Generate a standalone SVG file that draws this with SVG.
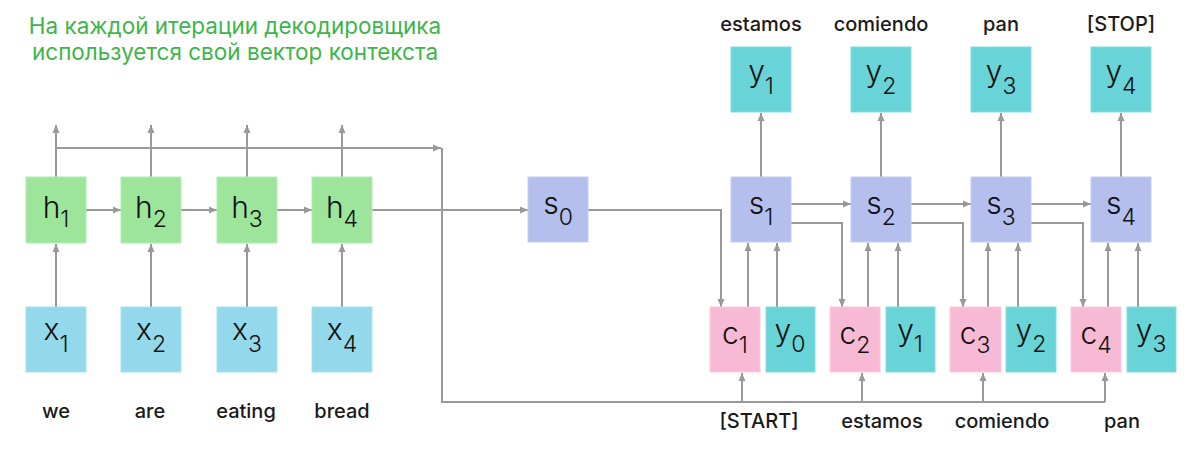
<svg xmlns="http://www.w3.org/2000/svg" width="1200" height="449" viewBox="0 0 1200 449">
<defs>
<marker id="ah" viewBox="0 0 8 8" refX="8" refY="4" markerWidth="8" markerHeight="8" markerUnits="userSpaceOnUse" orient="auto">
<path d="M0,0.5 L8,4 L0,7.5 z" fill="#999"/>
</marker>
<style>
.ln{fill:none;stroke:#999;stroke-width:2}
.ar{fill:none;stroke:#999;stroke-width:2;marker-end:url(#ah)}
.bx{stroke-width:1}
.xb{fill:#93d9eb;stroke:#a9e2f0}
.hb{fill:#9de59b;stroke:#b2ecb0}
.sb{fill:#b4bfee;stroke:#c4cdf2}
.cb{fill:#f8b9d4;stroke:#fbcbe0}
.yb{fill:#68d4d8;stroke:#86dde0}
.lab{font-family:Inter,Roboto,"Liberation Sans",sans-serif;font-weight:300;font-size:30px;fill:#111;text-anchor:middle}
.sub{font-size:23px}
.wd{font-family:Inter,"Liberation Sans",sans-serif;font-weight:500;font-size:20px;fill:#1a1a1a;text-anchor:middle}
.ttl{font-family:Inter,"Liberation Sans","Noto Sans",sans-serif;font-size:22.5px;fill:#3db54a;text-anchor:middle}
</style>
</defs>
<rect width="1200" height="449" fill="#fff"/>

<g id="title">
<text class="ttl" x="235" y="34">На каждой итерации декодировщика</text>
<text class="ttl" x="235" y="60">используется свой вектор контекста</text>
</g>

<g id="connectors">
<path class="ar" d="M56,307 V244"/>
<path class="ar" d="M151,307 V244"/>
<path class="ar" d="M247,307 V244"/>
<path class="ar" d="M342,307 V244"/>
<path class="ar" d="M56,177 V125"/>
<path class="ar" d="M151,177 V125"/>
<path class="ar" d="M247,177 V125"/>
<path class="ar" d="M342,177 V125"/>
<path class="ar" d="M86,210 H121"/>
<path class="ar" d="M181,210 H217"/>
<path class="ar" d="M277,210 H312"/>
<path class="ar" d="M372,210 H528"/>
<path class="ar" d="M56,148 H441"/>
<path class="ln" d="M442,148 V402 H1105"/>
<path class="ar" d="M742,402 V373"/>
<path class="ar" d="M862,402 V373"/>
<path class="ar" d="M983,402 V373"/>
<path class="ar" d="M1105,402 V373"/>
<path class="ar" d="M588,210 H721 V307"/>
<path class="ar" d="M791,204 H851"/>
<path class="ar" d="M911,204 H971"/>
<path class="ar" d="M1031,204 H1091"/>
<path class="ar" d="M791,223 H842 V307"/>
<path class="ar" d="M911,223 H963 V307"/>
<path class="ar" d="M1031,223 H1083 V307"/>
<path class="ar" d="M748,307 V243"/>
<path class="ar" d="M868,307 V243"/>
<path class="ar" d="M988,307 V243"/>
<path class="ar" d="M1108,307 V243"/>
<path class="ar" d="M777,307 V243"/>
<path class="ar" d="M898,307 V243"/>
<path class="ar" d="M1018,307 V243"/>
<path class="ar" d="M1138,307 V243"/>
<path class="ar" d="M761,177 V113"/>
<path class="ar" d="M881,177 V113"/>
<path class="ar" d="M1001,177 V113"/>
<path class="ar" d="M1121,177 V113"/>
</g>

<g id="x1"><rect class="bx xb" x="26" y="307" width="60" height="65"/><text class="lab" x="56" y="340">x<tspan class="sub" dy="12">1</tspan></text></g>
<g id="x2"><rect class="bx xb" x="121" y="307" width="60" height="65"/><text class="lab" x="151" y="340">x<tspan class="sub" dy="12">2</tspan></text></g>
<g id="x3"><rect class="bx xb" x="217" y="307" width="60" height="65"/><text class="lab" x="247" y="340">x<tspan class="sub" dy="12">3</tspan></text></g>
<g id="x4"><rect class="bx xb" x="312" y="307" width="60" height="65"/><text class="lab" x="342" y="340">x<tspan class="sub" dy="12">4</tspan></text></g>

<g id="h1"><rect class="bx hb" x="26" y="177" width="60" height="66"/><text class="lab" x="56" y="218">h<tspan class="sub" dy="9">1</tspan></text></g>
<g id="h2"><rect class="bx hb" x="121" y="177" width="60" height="66"/><text class="lab" x="151" y="218">h<tspan class="sub" dy="9">2</tspan></text></g>
<g id="h3"><rect class="bx hb" x="217" y="177" width="60" height="66"/><text class="lab" x="247" y="218">h<tspan class="sub" dy="9">3</tspan></text></g>
<g id="h4"><rect class="bx hb" x="312" y="177" width="60" height="66"/><text class="lab" x="342" y="218">h<tspan class="sub" dy="9">4</tspan></text></g>

<g id="s0"><rect class="bx sb" x="528" y="177" width="60" height="65"/><text class="lab" x="558" y="214">s<tspan class="sub" dy="11">0</tspan></text></g>
<g id="s1"><rect class="bx sb" x="731" y="177" width="60" height="65"/><text class="lab" x="761" y="214">s<tspan class="sub" dy="11">1</tspan></text></g>
<g id="s2"><rect class="bx sb" x="851" y="177" width="60" height="65"/><text class="lab" x="881" y="214">s<tspan class="sub" dy="11">2</tspan></text></g>
<g id="s3"><rect class="bx sb" x="971" y="177" width="60" height="65"/><text class="lab" x="1001" y="214">s<tspan class="sub" dy="11">3</tspan></text></g>
<g id="s4"><rect class="bx sb" x="1091" y="177" width="60" height="65"/><text class="lab" x="1121" y="214">s<tspan class="sub" dy="11">4</tspan></text></g>

<g id="y1out"><rect class="bx yb" x="731" y="47" width="60" height="65"/><text class="lab" x="761" y="82">y<tspan class="sub" dy="12">1</tspan></text></g>
<g id="y2out"><rect class="bx yb" x="851" y="47" width="60" height="65"/><text class="lab" x="881" y="82">y<tspan class="sub" dy="12">2</tspan></text></g>
<g id="y3out"><rect class="bx yb" x="971" y="47" width="60" height="65"/><text class="lab" x="1001" y="82">y<tspan class="sub" dy="12">3</tspan></text></g>
<g id="y4out"><rect class="bx yb" x="1091" y="47" width="60" height="65"/><text class="lab" x="1121" y="82">y<tspan class="sub" dy="12">4</tspan></text></g>

<g id="c1"><rect class="bx cb" x="710" y="307" width="50" height="65"/><text class="lab" x="735" y="344">c<tspan class="sub" dy="9">1</tspan></text></g>
<g id="c2"><rect class="bx cb" x="830" y="307" width="50" height="65"/><text class="lab" x="855" y="344">c<tspan class="sub" dy="9">2</tspan></text></g>
<g id="c3"><rect class="bx cb" x="950" y="307" width="51" height="65"/><text class="lab" x="975" y="344">c<tspan class="sub" dy="9">3</tspan></text></g>
<g id="c4"><rect class="bx cb" x="1071" y="307" width="50" height="65"/><text class="lab" x="1096" y="344">c<tspan class="sub" dy="9">4</tspan></text></g>

<g id="y0in"><rect class="bx yb" x="766" y="307" width="49" height="65"/><text class="lab" x="790" y="341">y<tspan class="sub" dy="11">0</tspan></text></g>
<g id="y1in"><rect class="bx yb" x="886" y="307" width="49" height="65"/><text class="lab" x="910" y="341">y<tspan class="sub" dy="11">1</tspan></text></g>
<g id="y2in"><rect class="bx yb" x="1006" y="307" width="50" height="65"/><text class="lab" x="1031" y="341">y<tspan class="sub" dy="11">2</tspan></text></g>
<g id="y3in"><rect class="bx yb" x="1127" y="307" width="49" height="65"/><text class="lab" x="1151" y="341">y<tspan class="sub" dy="11">3</tspan></text></g>

<g id="labels">
<text class="wd" x="56" y="418">we</text>
<text class="wd" x="150" y="418">are</text>
<text class="wd" x="246" y="418">eating</text>
<text class="wd" x="342" y="418">bread</text>
<text class="wd" x="759" y="428">[START]</text>
<text class="wd" x="882" y="428">estamos</text>
<text class="wd" x="1002" y="428">comiendo</text>
<text class="wd" x="1122" y="428">pan</text>
<text class="wd" x="761" y="31">estamos</text>
<text class="wd" x="881" y="31">comiendo</text>
<text class="wd" x="1001" y="31">pan</text>
<text class="wd" x="1121" y="31">[STOP]</text>
</g>
</svg>
